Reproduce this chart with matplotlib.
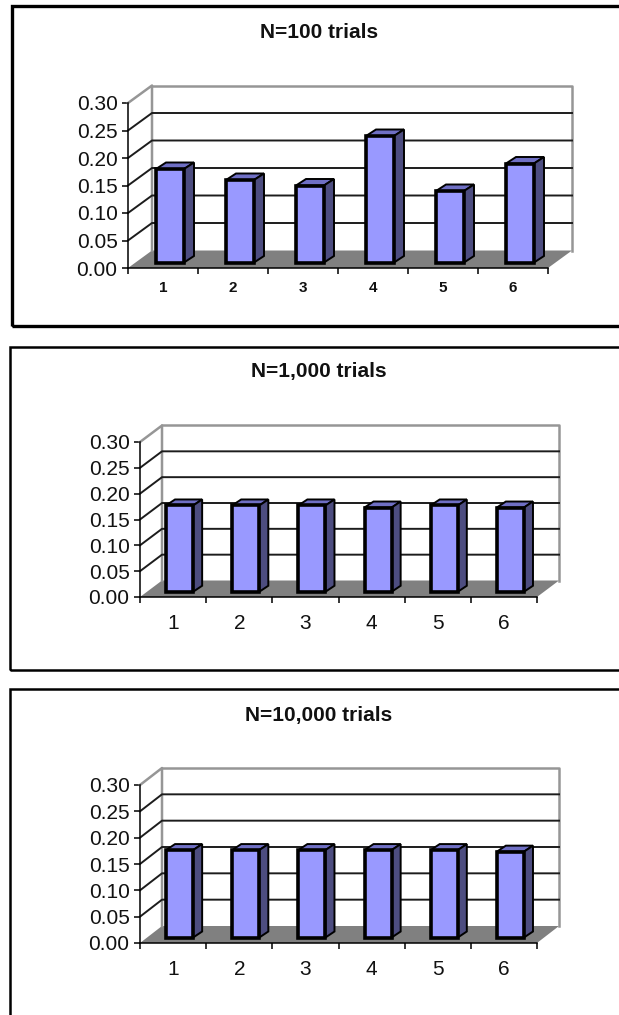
import matplotlib
matplotlib.use("Agg")
import matplotlib.pyplot as plt
from matplotlib.patches import Polygon, Rectangle

plt.rcParams["font.family"] = ["Liberation Sans", "DejaVu Sans"]

W, H = 619, 1015

faces = ["1", "2", "3", "4", "5", "6"]
y_ticks = [0.00, 0.05, 0.10, 0.15, 0.20, 0.25, 0.30]
freq_100 = [0.17, 0.15, 0.14, 0.23, 0.13, 0.18]
freq_1000 = [0.167, 0.167, 0.167, 0.163, 0.167, 0.163]
freq_10000 = [0.166, 0.166, 0.166, 0.166, 0.166, 0.163]
titles = ["N=100 trials", "N=1,000 trials", "N=10,000 trials"]

BAR = "#9999ff"
TOP = "#6f6fc4"
SIDE = "#4d4d80"
FLOOR = "#808080"
WALL = "#969696"
GRID = "#1c1c1c"


def frame(x0, y0, x1, y1, lw):
    fig.add_artist(Rectangle((x0 / W, 1 - y1 / H), (x1 - x0) / W, (y1 - y0) / H,
                             transform=fig.transFigure, fc="none", ec="black", lw=lw))


def chart(vals, title, title_xy, box, depth, bar_w, bar_d, xfont, xbold, xpad):
    # box = pixels of the front axis: left, right, y at 0.00, y at 0.30
    x0, x1, yb, yt = box
    ax = fig.add_axes([x0 / W, 1 - yb / H, (x1 - x0) / W, (yb - yt) / H])
    ax.set_xlim(0, 6)
    ax.set_ylim(0, 0.30)
    ax.patch.set_alpha(0)
    px = 6 / (x1 - x0)
    py = 0.30 / (yb - yt)
    dx, dy = depth[0] * px, depth[1] * py
    bx, by = bar_d[0] * px, bar_d[1] * py

    # floor and walls of the fake 3D box
    ax.add_patch(Polygon([(0, 0), (6, 0), (6 + dx, dy), (dx, dy)], fc=FLOOR, ec="none",
                         clip_on=False, zorder=1))
    ax.plot([0, dx, dx], [0.30, 0.30 + dy, dy], color=WALL, lw=1.8, clip_on=False, zorder=2)
    ax.plot([dx, 6 + dx, 6 + dx], [0.30 + dy, 0.30 + dy, dy], color=WALL, lw=1.8,
            clip_on=False, zorder=2)
    for v in y_ticks[1:-1]:
        ax.plot([0, dx, 6 + dx], [v, v + dy, v + dy], color=GRID, lw=1.4, clip_on=False, zorder=2)

    # bars sit in the middle of the floor depth
    pos = [i + 0.5 + dx / 2 - bx / 2 for i in range(6)]
    base = dy / 2 - by / 2
    ax.bar(pos, vals, width=bar_w, bottom=base, color=BAR, edgecolor="black", lw=2.6,
           clip_on=False, zorder=4)
    for p, v in zip(pos, vals):
        l, r = p - bar_w / 2, p + bar_w / 2
        t = base + v
        ax.add_patch(Polygon([(l, t), (r, t), (r + bx, t + by), (l + bx, t + by)], fc=TOP, ec="black",
                             lw=1.4, clip_on=False, zorder=3))
        ax.add_patch(Polygon([(r, base), (r + bx, base + by), (r + bx, t + by), (r, t)], fc=SIDE,
                             ec="black", lw=1.4, clip_on=False, zorder=3))

    for s in ["top", "right"]:
        ax.spines[s].set_visible(False)
    for s in ["left", "bottom"]:
        ax.spines[s].set_linewidth(1.1)
        ax.spines[s].set_zorder(5)
    ax.set_yticks(y_ticks)
    ax.set_yticklabels([f"{v:.2f}" for v in y_ticks], fontsize=15, color="#111111")
    ax.tick_params(axis="y", length=4.3, width=1.1, pad=3.2)
    ax.set_xticks(range(7))
    ax.set_xticklabels([])
    ax.tick_params(axis="x", which="major", length=4.3, width=1.1)
    ax.set_xticks([i + 0.5 for i in range(6)], minor=True)
    ax.set_xticklabels(faces, minor=True, fontsize=xfont, color="#111111",
                       fontweight="bold" if xbold else "normal")
    ax.tick_params(axis="x", which="minor", length=0, pad=xpad)

    fig.text(title_xy[0] / W, 1 - title_xy[1] / H, title, ha="center", va="center",
             fontsize=15, fontweight="bold", color="#111111")


fig = plt.figure(figsize=(W / 100, H / 100), dpi=100, facecolor="white")

frame(12, 6, 640, 326, 2.4)
frame(10, 347, 640, 670, 1.8)
frame(10, 689, 640, 1040, 1.8)

chart(freq_100, titles[0], (319, 32), (128, 548, 268, 103), (24, 17.5), 0.40, (10, 6.5), 11, True, 9.5)
chart(freq_1000, titles[1], (319, 372), (140, 537, 597, 442), (22, 16.5), 0.41, (9, 6), 15, False, 12)
chart(freq_10000, titles[2], (319, 715), (140, 537, 943, 785), (22, 17), 0.41, (9, 6), 15, False, 12)

fig.savefig("out.png", dpi=100)
